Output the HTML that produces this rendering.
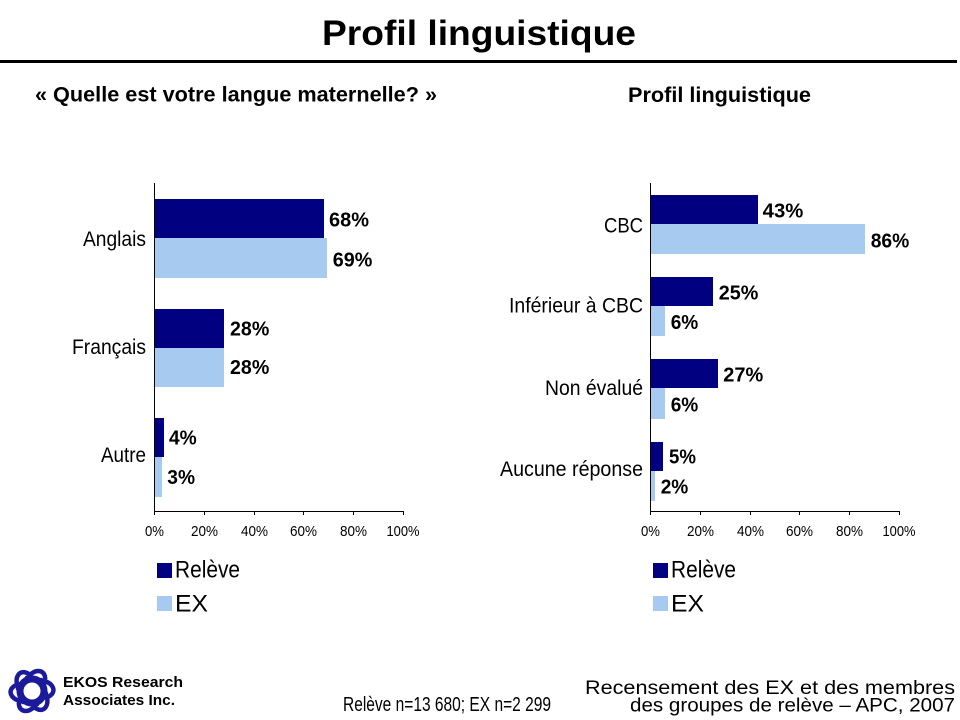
<!DOCTYPE html>
<html><head><meta charset="utf-8"><style>
html,body{margin:0;padding:0;background:#fff;}
svg{display:block;}
text{font-family:"Liberation Sans",Arial,sans-serif;fill:#000;}
.v{font-weight:bold;font-size:20px;}
.c{font-size:21px;}
.t{font-size:15px;}
</style></head><body>
<svg width="960" height="720" viewBox="0 0 960 720" xmlns="http://www.w3.org/2000/svg">
<rect width="960" height="720" fill="#fff"/>
<!-- Title -->
<text x="322" y="45" font-size="35" font-weight="bold" textLength="314" lengthAdjust="spacingAndGlyphs">Profil linguistique</text>
<rect x="0" y="60" width="957" height="3" fill="#000"/>
<text x="35" y="101.5" font-size="21" font-weight="bold" textLength="402" lengthAdjust="spacingAndGlyphs">« Quelle est votre langue maternelle? »</text>
<text x="628" y="102" font-size="21" font-weight="bold" textLength="183" lengthAdjust="spacingAndGlyphs">Profil linguistique</text>

<!-- LEFT CHART -->
<g>
<rect x="155" y="199" width="169" height="39" fill="#000080"/>
<rect x="155" y="238" width="172" height="40" fill="#a6caf0"/>
<rect x="155" y="309" width="69" height="39" fill="#000080"/>
<rect x="155" y="348" width="69" height="39" fill="#a6caf0"/>
<rect x="155" y="418" width="9" height="39" fill="#000080"/>
<rect x="155" y="457" width="7" height="40" fill="#a6caf0"/>
<rect x="154" y="183" width="1" height="329" fill="#000"/>
<rect x="154" y="511" width="250" height="1" fill="#000"/>
<g fill="#000">
<rect x="154" y="511" width="1" height="4"/><rect x="204" y="511" width="1" height="4"/><rect x="254" y="511" width="1" height="4"/><rect x="303" y="511" width="1" height="4"/><rect x="353" y="511" width="1" height="4"/><rect x="403" y="511" width="1" height="4"/>
</g>
<g class="t" text-anchor="middle">
<text x="154.5" y="536" textLength="19" lengthAdjust="spacingAndGlyphs">0%</text>
<text x="204.5" y="536" textLength="27" lengthAdjust="spacingAndGlyphs">20%</text>
<text x="254.5" y="536" textLength="27" lengthAdjust="spacingAndGlyphs">40%</text>
<text x="303.5" y="536" textLength="27" lengthAdjust="spacingAndGlyphs">60%</text>
<text x="353.5" y="536" textLength="27" lengthAdjust="spacingAndGlyphs">80%</text>
<text x="403" y="536" textLength="33" lengthAdjust="spacingAndGlyphs">100%</text>
</g>
<g class="c" text-anchor="end">
<text x="146" y="246" textLength="63" lengthAdjust="spacingAndGlyphs">Anglais</text>
<text x="146" y="354" textLength="74" lengthAdjust="spacingAndGlyphs">Français</text>
<text x="146" y="462" textLength="45" lengthAdjust="spacingAndGlyphs">Autre</text>
</g>
<g class="v">
<text x="329" y="226.7" textLength="40" lengthAdjust="spacingAndGlyphs">68%</text>
<text x="332.7" y="266.7" textLength="39.6" lengthAdjust="spacingAndGlyphs">69%</text>
<text x="230" y="335.7" textLength="39.3" lengthAdjust="spacingAndGlyphs">28%</text>
<text x="230" y="374" textLength="39.3" lengthAdjust="spacingAndGlyphs">28%</text>
<text x="169" y="444.3" textLength="27.7" lengthAdjust="spacingAndGlyphs">4%</text>
<text x="167.3" y="484" textLength="27.7" lengthAdjust="spacingAndGlyphs">3%</text>
</g>
<rect x="157" y="563" width="15" height="15" fill="#000080"/>
<rect x="157" y="596" width="15" height="15" fill="#a6caf0"/>
<text x="175" y="577.5" font-size="24" textLength="65" lengthAdjust="spacingAndGlyphs">Relève</text>
<text x="175" y="611.5" font-size="24" textLength="33" lengthAdjust="spacingAndGlyphs">EX</text>
</g>

<!-- RIGHT CHART -->
<g>
<rect x="651" y="195" width="107" height="29" fill="#000080"/>
<rect x="651" y="224" width="214" height="30" fill="#a6caf0"/>
<rect x="651" y="277" width="62" height="29" fill="#000080"/>
<rect x="651" y="306" width="14" height="30" fill="#a6caf0"/>
<rect x="651" y="359" width="67" height="29" fill="#000080"/>
<rect x="651" y="388" width="14" height="31" fill="#a6caf0"/>
<rect x="651" y="442" width="12" height="29" fill="#000080"/>
<rect x="651" y="471" width="4" height="30" fill="#a6caf0"/>
<rect x="650" y="183" width="1" height="329" fill="#000"/>
<rect x="650" y="511" width="250" height="1" fill="#000"/>
<g fill="#000">
<rect x="650" y="511" width="1" height="4"/><rect x="700" y="511" width="1" height="4"/><rect x="750" y="511" width="1" height="4"/><rect x="799" y="511" width="1" height="4"/><rect x="849" y="511" width="1" height="4"/><rect x="899" y="511" width="1" height="4"/>
</g>
<g class="t" text-anchor="middle">
<text x="650.5" y="536" textLength="19" lengthAdjust="spacingAndGlyphs">0%</text>
<text x="700.5" y="536" textLength="27" lengthAdjust="spacingAndGlyphs">20%</text>
<text x="750.5" y="536" textLength="27" lengthAdjust="spacingAndGlyphs">40%</text>
<text x="799.5" y="536" textLength="27" lengthAdjust="spacingAndGlyphs">60%</text>
<text x="849.5" y="536" textLength="27" lengthAdjust="spacingAndGlyphs">80%</text>
<text x="899" y="536" textLength="33" lengthAdjust="spacingAndGlyphs">100%</text>
</g>
<g class="c" text-anchor="end">
<text x="643" y="232.3" textLength="39" lengthAdjust="spacingAndGlyphs">CBC</text>
<text x="643" y="312.7" textLength="134" lengthAdjust="spacingAndGlyphs">Inférieur à CBC</text>
<text x="643" y="395" textLength="98" lengthAdjust="spacingAndGlyphs">Non évalué</text>
<text x="643" y="476" textLength="143" lengthAdjust="spacingAndGlyphs">Aucune réponse</text>
</g>
<g class="v">
<text x="762.7" y="217.7" textLength="40.6" lengthAdjust="spacingAndGlyphs">43%</text>
<text x="870.7" y="247.3" textLength="38.6" lengthAdjust="spacingAndGlyphs">86%</text>
<text x="718.7" y="299.3" textLength="39.6" lengthAdjust="spacingAndGlyphs">25%</text>
<text x="670.7" y="329" textLength="27.6" lengthAdjust="spacingAndGlyphs">6%</text>
<text x="723.3" y="381.7" textLength="40" lengthAdjust="spacingAndGlyphs">27%</text>
<text x="670.7" y="411.3" textLength="27.6" lengthAdjust="spacingAndGlyphs">6%</text>
<text x="669" y="463.3" textLength="27" lengthAdjust="spacingAndGlyphs">5%</text>
<text x="660.7" y="493.3" textLength="27.6" lengthAdjust="spacingAndGlyphs">2%</text>
</g>
<rect x="653" y="563" width="15" height="15" fill="#000080"/>
<rect x="653" y="596" width="15" height="15" fill="#a6caf0"/>
<text x="671" y="577.5" font-size="24" textLength="65" lengthAdjust="spacingAndGlyphs">Relève</text>
<text x="671" y="611.5" font-size="24" textLength="33" lengthAdjust="spacingAndGlyphs">EX</text>
</g>

<!-- Footer -->
<g transform="translate(32,691)">
<circle r="12" fill="none" stroke="#1a1a9a" stroke-width="7"/>
<g fill="none" stroke="#1a1a9a" stroke-width="4.5" stroke-linecap="round">
<path d="M-2,-16 C4,-22 12,-21 13,-14 C14,-10 10,-9 9,-11" transform="rotate(0)"/>
<path d="M-2,-16 C4,-22 12,-21 13,-14 C14,-10 10,-9 9,-11" transform="rotate(60)"/>
<path d="M-2,-16 C4,-22 12,-21 13,-14 C14,-10 10,-9 9,-11" transform="rotate(120)"/>
<path d="M-2,-16 C4,-22 12,-21 13,-14 C14,-10 10,-9 9,-11" transform="rotate(180)"/>
<path d="M-2,-16 C4,-22 12,-21 13,-14 C14,-10 10,-9 9,-11" transform="rotate(240)"/>
<path d="M-2,-16 C4,-22 12,-21 13,-14 C14,-10 10,-9 9,-11" transform="rotate(300)"/>
</g>
<circle r="7" fill="#fff"/>
</g>
<text x="63" y="687" font-size="15" font-weight="bold" textLength="120" lengthAdjust="spacingAndGlyphs">EKOS Research</text>
<text x="63" y="705" font-size="15" font-weight="bold" textLength="112" lengthAdjust="spacingAndGlyphs">Associates Inc.</text>
<text x="343" y="711" font-size="20" textLength="208" lengthAdjust="spacingAndGlyphs">Relève n=13 680; EX n=2 299</text>
<text x="955" y="694" font-size="19" text-anchor="end" textLength="370" lengthAdjust="spacingAndGlyphs">Recensement des EX et des membres</text>
<text x="955" y="711.5" font-size="19" text-anchor="end" textLength="325" lengthAdjust="spacingAndGlyphs">des groupes de relève – APC, 2007</text>
</svg>
</body></html>
